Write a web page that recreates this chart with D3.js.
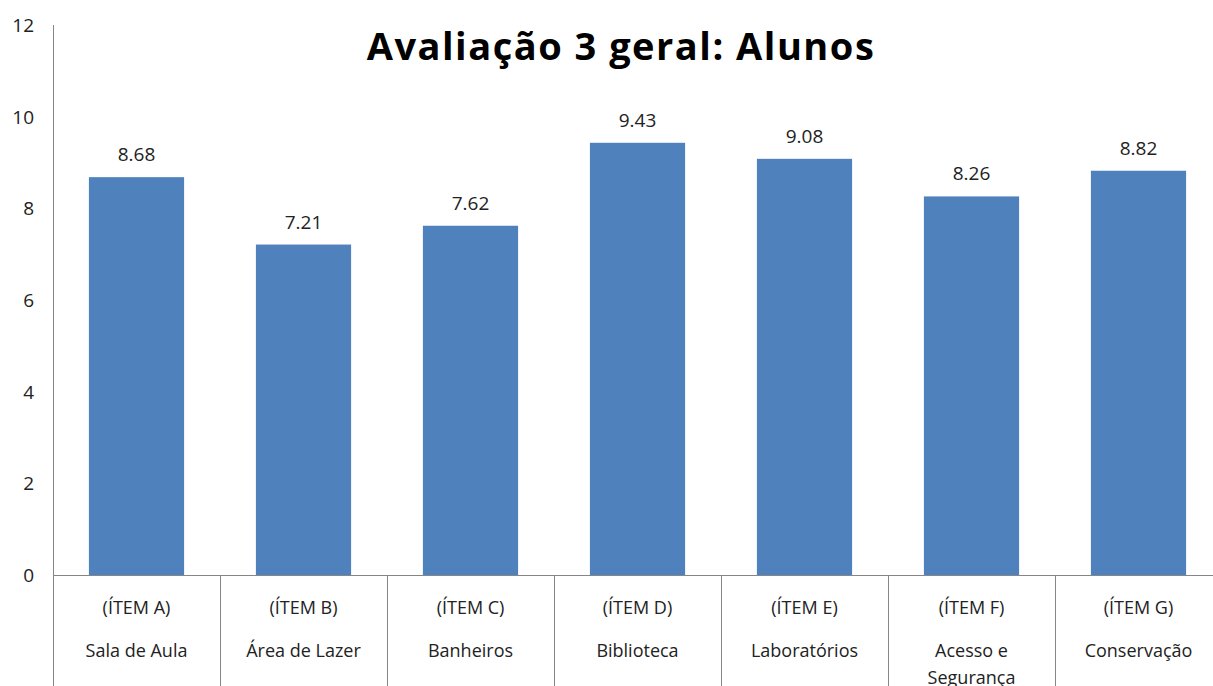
<!DOCTYPE html>
<html>
<head>
<meta charset="utf-8">
<script src="https://cdn.jsdelivr.net/npm/d3@7"></script>
<style>
  body { margin: 0; background: #fff; }
  text { font-family: "Open Sans", Lato, sans-serif; fill: #222; }
</style>
</head>
<body>
<div id="chart"></div>
<script>
var items = ["(ÍTEM A)", "(ÍTEM B)", "(ÍTEM C)", "(ÍTEM D)", "(ÍTEM E)", "(ÍTEM F)", "(ÍTEM G)"];
var names = ["Sala de Aula", "Área de Lazer", "Banheiros", "Biblioteca", "Laboratórios", "Acesso e Segurança", "Conservação"];
var values = [8.68, 7.21, 7.62, 9.43, 9.08, 8.26, 8.82];
var yTicks = [0, 2, 4, 6, 8, 10, 12];

function buildChart(){
    var width = 1213;
    var height = 686;

    var svg = d3.select("#chart")
        .append("svg")
        .attr("width", width)
        .attr("height", height);

    var x = d3.scaleBand()
        .domain(items)
        .range([53, 53 + 167 * 7])
        .paddingInner(0.43)
        .paddingOuter(0.215);

    var bands = d3.scaleBand()
        .domain(items)
        .range([53, 53 + 167 * 7]);

    var y = d3.scaleLinear()
        .domain([0, 12])
        .range([575, 25]);

    // y axis line, runs all the way down through the label area
    svg.append("line")
        .attr("x1", 53.5).attr("x2", 53.5)
        .attr("y1", y(12)).attr("y2", height)
        .attr("stroke", "#868686");

    svg.selectAll(".ytick")
        .data(yTicks)
        .enter()
        .append("text")
        .attr("class", "ytick")
        .attr("x", 34)
        .attr("y", function(d){ return y(d) + 7 })
        .attr("text-anchor", "end")
        .attr("font-size", 19)
        .text(function(d){ return d });

    svg.selectAll(".bar")
        .data(values)
        .enter()
        .append("rect")
        .attr("class", "bar")
        .attr("x", function(d, i){ return x(items[i]) })
        .attr("y", function(d){ return y(d) })
        .attr("width", x.bandwidth())
        .attr("height", function(d){ return y(0) - y(d) })
        .attr("fill", "#4F81BD");

    svg.selectAll(".value")
        .data(values)
        .enter()
        .append("text")
        .attr("class", "value")
        .attr("x", function(d, i){ return x(items[i]) + x.bandwidth() / 2 })
        .attr("y", function(d){ return y(d) - 16 })
        .attr("text-anchor", "middle")
        .attr("font-size", 19)
        .text(function(d){ return d.toFixed(2) });

    // x axis line
    svg.append("line")
        .attr("x1", 53).attr("x2", width)
        .attr("y1", 575.5).attr("y2", 575.5)
        .attr("stroke", "#868686");

    // category separators
    svg.selectAll(".sep")
        .data(items.slice(1))
        .enter()
        .append("line")
        .attr("class", "sep")
        .attr("x1", function(d){ return Math.round(bands(d)) + 0.5 })
        .attr("x2", function(d){ return Math.round(bands(d)) + 0.5 })
        .attr("y1", 575).attr("y2", height)
        .attr("stroke", "#868686");

    var labels = svg.selectAll(".cat")
        .data(items)
        .enter()
        .append("g")
        .attr("class", "cat")
        .attr("transform", function(d){ return "translate(" + (bands(d) + bands.bandwidth() / 2) + ",0)" });

    labels.append("text")
        .attr("y", 614)
        .attr("text-anchor", "middle")
        .attr("font-size", 18)
        .text(function(d){ return d });

    labels.each(function(d, i){
        var g = d3.select(this);
        var words = names[i].split(" ");
        var lines = [];
        var line = [];
        var probe = g.append("text").attr("font-size", 18);
        words.forEach(function(w){
            line.push(w);
            probe.text(line.join(" "));
            if (probe.node().getComputedTextLength() > 145 && line.length > 1) {
                line.pop();
                lines.push(line.join(" "));
                line = [w];
            }
        });
        lines.push(line.join(" "));
        probe.remove();
        lines.forEach(function(l, k){
            g.append("text")
                .attr("y", 657 + k * 27)
                .attr("text-anchor", "middle")
                .attr("font-size", 18)
                .text(l);
        });
    });

    svg.append("text")
        .attr("x", 621)
        .attr("y", 60)
        .attr("text-anchor", "middle")
        .attr("font-size", 38)
        .attr("font-weight", "bold")
        .attr("letter-spacing", 1.5)
        .style("fill", "#000")
        .text("Avaliação 3 geral: Alunos");
}

buildChart();
</script>
</body>
</html>
